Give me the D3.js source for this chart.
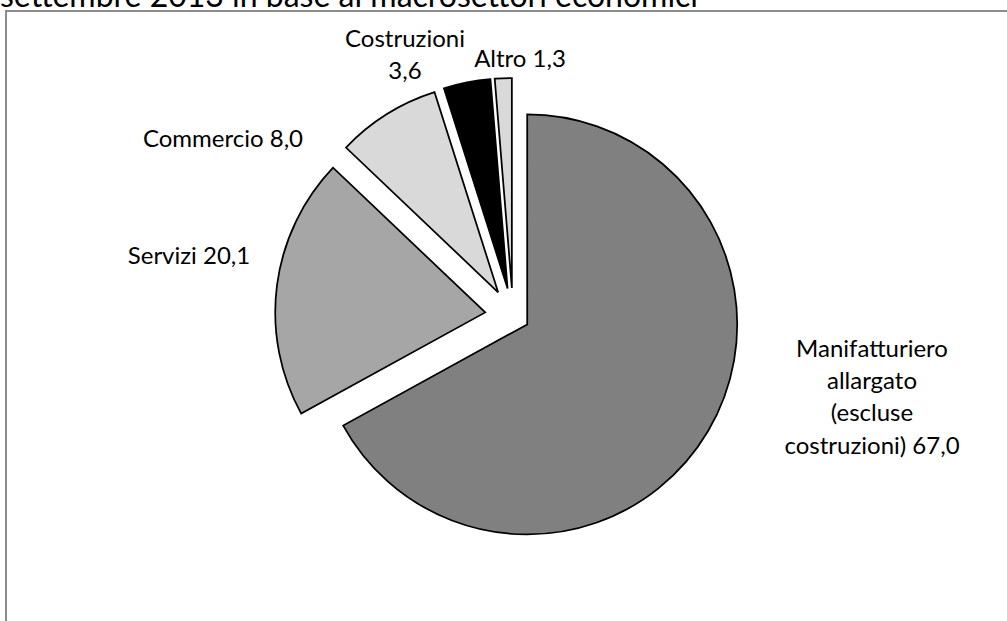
<!DOCTYPE html>
<html>
<head>
<meta charset="utf-8">
<script src="https://cdn.jsdelivr.net/npm/d3@7"></script>
<style>
  html, body { margin: 0; padding: 0; background: #fff; }
  svg { display: block; }
  text { font-family: Lato, "Open Sans", sans-serif; fill: #000; }
</style>
</head>
<body>
<svg id="chart" width="1007" height="621"></svg>
<script>
// Quota per macrosettore economico (%)
const categories = ["Manifatturiero allargato (escluse costruzioni)", "Servizi", "Commercio", "Costruzioni", "Altro"];
const values = [67.0, 20.1, 8.0, 3.6, 1.3];
// Label lines for each category; the value is appended to the last line
// unless valueOnOwnLine is set
const categoryLines = [["Manifatturiero", "allargato", "(escluse", "costruzioni)"], ["Servizi"], ["Commercio"], ["Costruzioni"], ["Altro"]];
const valueOnOwnLine = [false, false, false, true, false];
const fills = ["#808080", "#a6a6a6", "#d9d9d9", "#000000", "#d9d9d9"];

// Layout
const W = 1007, H = 621;
const cx = 513, cy = 316, radius = 210;
const explode = [16.5, 28, 28, 28, 28];
// label anchor (first baseline, centred) relative to pie centre
const labelOffset = [[359, 40.7], [-324, -52], [-290, -168.7], [-108, -269.3], [7, -249.3]];
const lineHeight = 32.3;
const fontSize = 24;

const svg = d3.select("#chart");
const fmt = v => d3.format(".1f")(v).replace(".", ",");

// Title (its upper part runs above the page)
svg.append("text")
  .attr("x", 0).attr("y", 7)
  .style("font-size", "32px")
  .text("settembre 2013 in base ai macrosettori economici");

// Chart frame
svg.append("rect")
  .attr("x", 6).attr("y", 11)
  .attr("width", W + 20).attr("height", H + 20)
  .attr("fill", "none")
  .attr("stroke", "#8c8c8c")
  .attr("stroke-width", 2);

const pie = d3.pie().sort(null).value(d => d)(values);
const arc = d3.arc().innerRadius(0).outerRadius(radius);

const g = svg.append("g").attr("transform", `translate(${cx},${cy})`);

g.selectAll("path.slice")
  .data(pie)
  .join("path")
  .attr("class", "slice")
  .attr("transform", (d, i) => {
    const a = (d.startAngle + d.endAngle) / 2;
    return `translate(${Math.sin(a) * explode[i]},${-Math.cos(a) * explode[i]})`;
  })
  .attr("d", arc)
  .attr("fill", (d, i) => fills[i])
  .attr("stroke", "#000")
  .attr("stroke-width", 1.75)
  .attr("stroke-linejoin", "miter");

// Data labels
pie.forEach((d, i) => {
  const lines = categoryLines[i].slice();
  const v = fmt(values[i]);
  if (valueOnOwnLine[i]) lines.push(v);
  else lines[lines.length - 1] = lines[lines.length - 1] + " " + v;
  const t = g.append("text")
    .attr("text-anchor", "middle")
    .style("font-size", fontSize + "px")
    .attr("transform", `translate(${labelOffset[i][0]},${labelOffset[i][1]})`);
  lines.forEach((ln, k) => {
    t.append("tspan").attr("x", 0).attr("y", k * lineHeight).text(ln);
  });
});
</script>
</body>
</html>
